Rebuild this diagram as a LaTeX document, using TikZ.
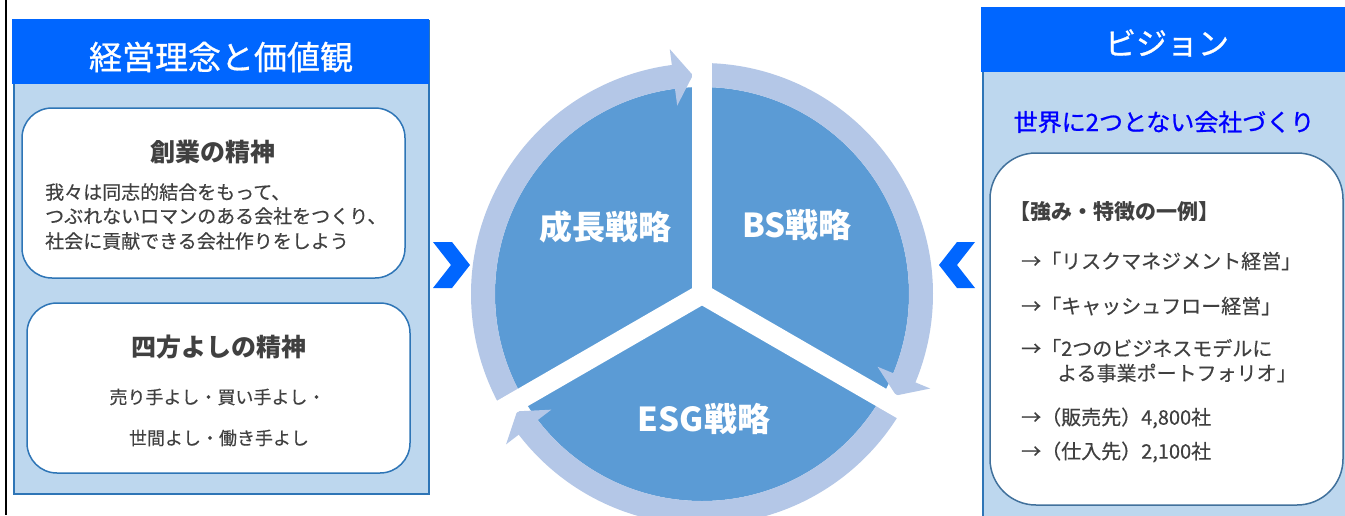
\documentclass[tikz,border=0pt]{standalone}
\usepackage{fontspec}
\setmainfont{Noto Sans CJK JP}
\newfontfamily\medf{Noto Sans CJK JP}[FakeBold=0.9]
\newfontfamily\txtf{Noto Sans CJK JP}[FakeBold=0.4]
\usetikzlibrary{calc}
\definecolor{headc}{HTML}{0066FF}
\definecolor{bodyc}{HTML}{BDD7EE}
\definecolor{bordc}{HTML}{2E75B6}
\definecolor{boxbord}{HTML}{41719C}
\definecolor{piec}{HTML}{5B9BD5}
\definecolor{ringc}{HTML}{B4C7E7}
\definecolor{txtc}{HTML}{404040}
\definecolor{visc}{HTML}{0000FF}
\newcommand{\fsz}[1]{\fontsize{#1}{#1}\selectfont}
\begin{document}
\begin{tikzpicture}[x=1pt,y=1pt,
  txt/.style={inner sep=0pt, text=txtc},
  panel/.style={draw=bordc, line width=1.5pt, fill=bodyc, inner sep=0pt, anchor=north west},
  header/.style={fill=headc, inner sep=0pt, anchor=north west},
  wbox/.style={draw=bordc, line width=1.5pt, fill=white, rounded corners=30pt, inner sep=0pt},
  chev/.style={fill=headc},
  ring/.style={draw=ringc, line width=24pt},
  gapline/.style={draw=white, line width=20pt},
  wtxt/.style={inner sep=0pt, text=white, font=\fsz{33}\bfseries},
  htxt/.style={inner sep=0pt, text=white},
]
\useasboundingbox (0,0) rectangle (1345,-515);
\fill[white] (0,0) rectangle (1345,-515);
\draw[black, line width=2pt] (6,0) -- (6,-515);

% ---------- left panel
\node[panel, minimum width=415pt, minimum height=473pt] (lp) at (13,-20) {};
\node[header, minimum width=416.5pt, minimum height=65pt] (lh) at (12.25,-19.25) {};
\node[htxt, font=\medf\fsz{33}] (lht) at (221,-57) {経営理念と価値観};

\node[wbox, minimum width=383pt, minimum height=170pt] (b1) at (213.5,-193) {};
\node[txt, font=\fsz{25}\bfseries] (b1t) at (213,-152) {創業の精神};
\node[txt, font=\txtf\fsz{19}, anchor=west] (b1a) at (45,-192) {我々は同志的結合をもって、};
\node[txt, font=\txtf\fsz{19}, anchor=west] (b1b) at (45,-216) {つぶれないロマンのある会社をつくり、};
\node[txt, font=\txtf\fsz{19}, anchor=west] (b1c) at (45,-241) {社会に貢献できる会社作りをしよう};

\node[wbox, minimum width=383pt, minimum height=170pt] (b2) at (218.5,-388) {};
\node[txt, font=\fsz{25}\bfseries] (b2t) at (218.5,-347) {四方よしの精神};
\node[txt, font=\txtf\fsz{18}] (b2a) at (217.5,-397) {売り手よし・買い手よし・};
\node[txt, font=\txtf\fsz{18}] (b2b) at (219,-438) {世間よし・働き手よし};

% ---------- chevrons
\fill[chev] (433,-242) -- (452,-242) -- (470,-265) -- (452,-288) -- (433,-288) -- (451,-265) -- cycle;
\fill[chev] (975,-242) -- (957,-242) -- (939,-265) -- (957,-288) -- (975,-288) -- (957,-265) -- cycle;

% ---------- cycle
\coordinate (C) at (702,-294);
\fill[piec] (C) circle[radius=207];
\draw[ring] ($(C)+(210:219)$) arc[start angle=210, end angle=97, radius=219];
\draw[ring] ($(C)+(90:219)$) arc[start angle=90, end angle=-23, radius=219];
\draw[ring] ($(C)+(330:219)$) arc[start angle=330, end angle=217, radius=219];
\fill[ringc] ($(C)+(97.5:190)$) -- ($(C)+(92.4:219)$) -- ($(C)+(97.5:247)$) -- cycle;
\fill[ringc] ($(C)+(-22.5:190)$) -- ($(C)+(-27.6:219)$) -- ($(C)+(-22.5:247)$) -- cycle;
\fill[ringc] ($(C)+(217.5:190)$) -- ($(C)+(212.4:219)$) -- ($(C)+(217.5:247)$) -- cycle;
\draw[gapline] (C) -- ($(C)+(90:262)$);
\draw[gapline] (C) -- ($(C)+(210:262)$);
\draw[gapline] (C) -- ($(C)+(330:262)$);
\node[wtxt] (s1) at (605,-227) {成長戦略};
\node[wtxt] (s2) at (797,-225) {BS戦略};
\node[wtxt] (s3) at (704,-419) {ESG戦略};

% ---------- right panel
\node[panel, minimum width=380pt, minimum height=530pt] (rp) at (982,-8) {};
\node[header, minimum width=381.5pt, minimum height=65pt] (rh) at (981.25,-7.25) {};
\node[htxt, font=\medf\fsz{31}] (rht) at (1167,-43) {ビジョン};
\node[inner sep=0pt, text=visc, font=\medf\fsz{24}] (vis) at (1164,-122) {世界に2つとない会社づくり};
\node[wbox, draw=boxbord, rounded corners=46pt, minimum width=353pt, minimum height=352pt] (rb) at (1166.5,-329) {};
\node[txt, font=\fsz{21}\bfseries, anchor=west] (r0) at (1009,-212) {【強み・特徴の一例】};
\node[txt, font=\txtf\fsz{20}, anchor=west] (r1) at (1021,-261) {→「リスクマネジメント経営」};
\node[txt, font=\txtf\fsz{20}, anchor=west] (r2) at (1021,-306) {→「キャッシュフロー経営」};
\node[txt, font=\txtf\fsz{20}, anchor=west] (r3) at (1021,-348) {→「2つのビジネスモデルに};
\node[txt, font=\txtf\fsz{20}, anchor=west] (r4) at (1057,-373) {よる事業ポートフォリオ」};
\node[txt, font=\txtf\fsz{20}, anchor=west] (r5) at (1021,-418) {→（販売先）4,800社};
\node[txt, font=\txtf\fsz{20}, anchor=west] (r6) at (1021,-452) {→（仕入先）2,100社};
\end{tikzpicture}
\end{document}
